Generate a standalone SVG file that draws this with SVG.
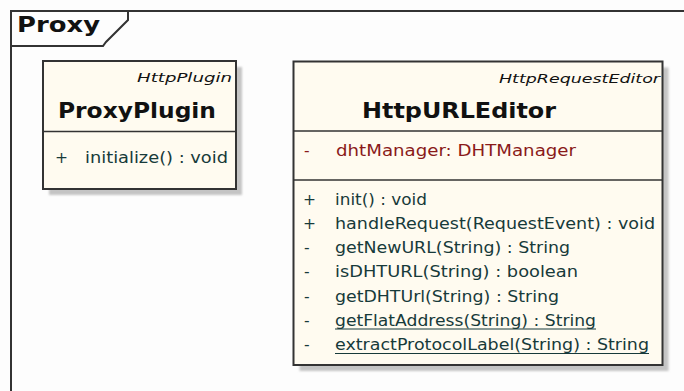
<svg xmlns="http://www.w3.org/2000/svg" width="684" height="391" viewBox="0 0 684 391">
<defs>
<filter id="sh" x="-10%" y="-10%" width="130%" height="130%"><feGaussianBlur stdDeviation="1"/></filter>
</defs>
<style>
.box{fill:#fffbf0;stroke:#333;stroke-width:2}
.shadow{fill:#c4c4c4;filter:url(#sh)}
.div{stroke:#333;stroke-width:1.5}
.frame{fill:none;stroke:#333;stroke-width:2}
.title{font-family:"DejaVu Sans",sans-serif;font-weight:bold;font-size:22px;fill:#111}
.stereo{font-family:"DejaVu Sans",sans-serif;font-style:italic;font-size:13px;fill:#111}
.op{font-family:"DejaVu Sans",sans-serif;font-size:15.5px;fill:#173a3a}
.attr{font-family:"DejaVu Sans",sans-serif;font-size:15.5px;fill:#8a1a1a}
.ul{stroke:#173a3a;stroke-width:1.2}
</style>
<rect x="0" y="0" width="684" height="391" fill="#fdfdfd"/>
<g id="frame">
<path class="frame" d="M11,391 V11 H684"/>
<path class="frame" d="M11,46 H103 L106,42 L128,20 V11"/>
<text x="17" y="32" class="title" font-size="19" textLength="83" lengthAdjust="spacingAndGlyphs">Proxy</text>
</g>
<g id="ProxyPlugin">
<rect class="shadow" x="49" y="67" width="193" height="128"/>
<rect class="box" x="43" y="61" width="193" height="128"/>
<line class="div" x1="43" y1="131.5" x2="236" y2="131.5"/>
<text class="stereo" x="232" y="82" text-anchor="end" textLength="95" lengthAdjust="spacingAndGlyphs">HttpPlugin</text>
<text class="title" x="58" y="118" textLength="158" lengthAdjust="spacingAndGlyphs">ProxyPlugin</text>
<text class="op" x="55" y="163">+</text>
<text class="op" x="85" y="163" textLength="143" lengthAdjust="spacingAndGlyphs">initialize() : void</text>
</g>
<g id="HttpURLEditor">
<rect class="shadow" x="299.5" y="67.5" width="369" height="303.5"/>
<rect class="box" x="293.5" y="61.5" width="369" height="303.5"/>
<line class="div" x1="293.5" y1="131" x2="662.5" y2="131"/>
<line class="div" x1="293.5" y1="180" x2="662.5" y2="180"/>
<text class="stereo" x="660" y="83" text-anchor="end" textLength="161" lengthAdjust="spacingAndGlyphs">HttpRequestEditor</text>
<text class="title" x="362" y="118" font-size="23" textLength="194" lengthAdjust="spacingAndGlyphs">HttpURLEditor</text>
<text class="attr" x="304" y="156">-</text>
<text class="attr" x="336" y="156" textLength="240" lengthAdjust="spacingAndGlyphs">dhtManager:  DHTManager</text>
<text class="op" x="303" y="205">+</text>
<text class="op" x="335" y="205" textLength="92" lengthAdjust="spacingAndGlyphs">init() : void</text>
<text class="op" x="303" y="229">+</text>
<text class="op" x="335" y="229" textLength="320" lengthAdjust="spacingAndGlyphs">handleRequest(RequestEvent) : void</text>
<text class="op" x="304" y="253">-</text>
<text class="op" x="335" y="253" textLength="235" lengthAdjust="spacingAndGlyphs">getNewURL(String) : String</text>
<text class="op" x="304" y="277">-</text>
<text class="op" x="335" y="277" textLength="243" lengthAdjust="spacingAndGlyphs">isDHTURL(String) : boolean</text>
<text class="op" x="304" y="301.5">-</text>
<text class="op" x="335" y="301.5" textLength="224" lengthAdjust="spacingAndGlyphs">getDHTUrl(String) : String</text>
<text class="op" x="304" y="325.5">-</text>
<text class="op" x="335" y="325.5" textLength="261" lengthAdjust="spacingAndGlyphs">getFlatAddress(String) : String</text>
<line class="ul" x1="335" y1="329" x2="596" y2="329"/>
<text class="op" x="304" y="350">-</text>
<text class="op" x="335" y="350" textLength="314" lengthAdjust="spacingAndGlyphs">extractProtocolLabel(String) : String</text>
<line class="ul" x1="335" y1="353.5" x2="649" y2="353.5"/>
</g>
<g id="connectors"></g>
</svg>
